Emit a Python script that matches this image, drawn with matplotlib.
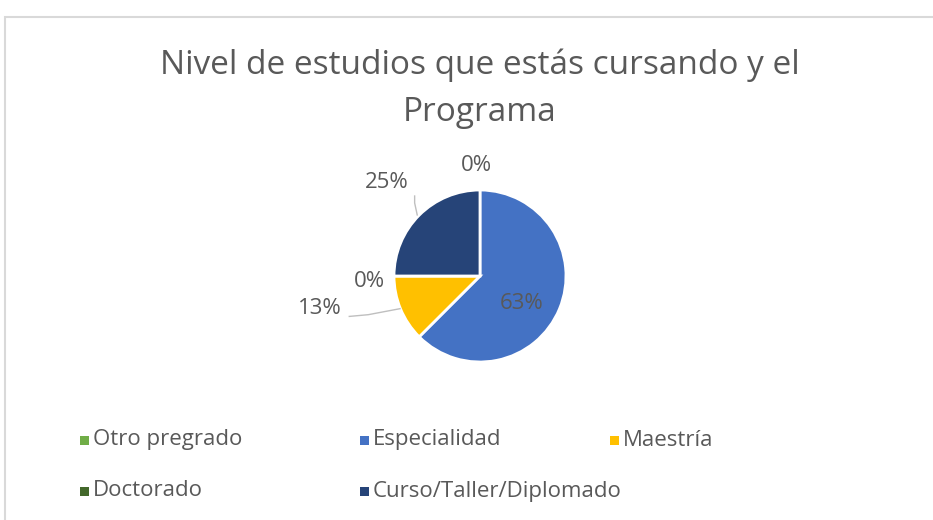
import math
import matplotlib
matplotlib.use("Agg")
import matplotlib.pyplot as plt
from matplotlib.patches import Rectangle

# datos (respuestas por nivel de estudios)
categorias = ["Otro pregrado", "Especialidad", "Maestría", "Doctorado", "Curso/Taller/Diplomado"]
respuestas = [0, 5, 1, 0, 2]
colores = ["#70AD47", "#4472C4", "#FFC000", "#43682B", "#264478"]

titulo = "Nivel de estudios que estás cursando y el\nPrograma"

# posicion de las etiquetas (en radios del pastel)
pos_etiquetas = [(-0.04, 1.29), (0.48, -0.32), (-1.86, -0.38), (-1.29, -0.06), (-1.09, 1.09)]

plt.rcParams['font.family'] = ['Open Sans', 'DejaVu Sans']
gris = "#595959"

W, H = 933, 520
fig = plt.figure(figsize=(W / 100, H / 100), dpi=100)

# marco del grafico
fig.add_artist(Rectangle((5 / W, -0.01), 1.0, (520 - 12) / H, transform=fig.transFigure,
                         fill=False, edgecolor="#d9d9d9", linewidth=1.5))

fig.text(480 / W, 1 - 89 / H, titulo, ha="center", va="center", fontsize=24,
         color=gris, linespacing=1.55)

# ejes del pastel: centro (480,276), radio 86 px
cx, cy, r, lim = 480, 276, 86, 2.2
half = r * lim
ax = fig.add_axes([(cx - half) / W, (H - cy - half) / H, 2 * half / W, 2 * half / H])

ax.pie(respuestas, colors=colores, startangle=90, counterclock=False, radius=1,
       wedgeprops=dict(edgecolor="white", linewidth=2))
ax.set_xlim(-lim, lim)
ax.set_ylim(-lim, lim)
ax.axis("off")

total = sum(respuestas)
for v, (x, y) in zip(respuestas, pos_etiquetas):
    pct = math.floor(v / total * 100 + 0.5)
    ax.text(x, y, f"{pct}%", ha="center", va="center", fontsize=16, color=gris)

# lineas guia
ax.plot([-0.73, -0.76, -0.76], [0.71, 0.85, 0.93], color="#bfbfbf", lw=1)
ax.plot([-0.93, -1.3, -1.52], [-0.38, -0.45, -0.47], color="#bfbfbf", lw=1)

# leyenda manual (3 columnas, por filas)
cols_x = [80, 360, 610]
rows_y = [440, 491]
for i, (cat, col) in enumerate(zip(categorias, colores)):
    x = cols_x[i % 3]
    y = rows_y[i // 3]
    fig.add_artist(Rectangle((x / W, 1 - (y + 4.5) / H), 9 / W, 9 / H,
                             transform=fig.transFigure, facecolor=col, edgecolor="none"))
    fig.text((x + 13) / W, 1 - y / H, cat, ha="left", va="center", fontsize=16, color=gris)

fig.savefig("out.png", dpi=100)
